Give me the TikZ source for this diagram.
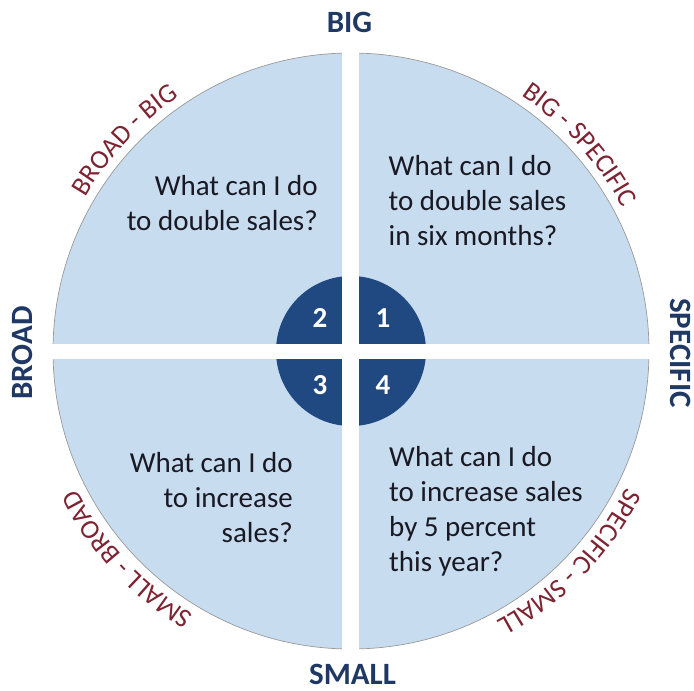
\documentclass[tikz,border=0pt]{standalone}
\usepackage{fontspec}
\setmainfont{Carlito}
\usetikzlibrary{decorations.text}
\definecolor{quadblue}{RGB}{200,220,240}
\definecolor{hubblue}{RGB}{31,73,128}
\definecolor{axisblue}{RGB}{31,56,100}
\definecolor{arcred}{RGB}{125,35,50}
\definecolor{qink}{RGB}{25,25,35}
\newcommand{\arcfont}{\fontsize{27}{32}\selectfont}

\begin{document}
\begin{tikzpicture}[x=1pt, y=1pt,
  axislabel/.style={font=\fontsize{31}{37}\selectfont\bfseries, text=axisblue, inner sep=0pt},
  question/.style={font=\fontsize{29}{35}\selectfont, text=qink, inner sep=0pt},
  quadnum/.style={font=\fontsize{29}{35}\selectfont\bfseries, text=white, inner sep=0pt},
  arclabel/.style={decorate, decoration={text along path, text align=center, text color=arcred, text={|\arcfont|#1}}}
]
  \useasboundingbox (-351,-340) rectangle (343,351);

  % disc, hub and the cross that splits them
  \filldraw[fill=quadblue, draw=gray!80, line width=0.7pt] (0,0) circle[radius=298];
  \fill[hubblue] (0,0) circle[radius=75];
  \fill[white] (-8.5,-310) rectangle (8.5,310);
  \fill[white] (-310,-7.5) rectangle (310,7.5);

  \node[quadnum] (n1) at (32,33)   {1};
  \node[quadnum] (n2) at (-31,33)  {2};
  \node[quadnum] (n3) at (-31,-34) {3};
  \node[quadnum] (n4) at (32,-34)  {4};

  \node[question, align=left, anchor=west]  (q1) at (37.5,150) {What can I do\\to double sales\\in six months?};
  \node[question, align=right, anchor=east] (q2) at (-33,148)  {What can I do\\to double sales?};
  \node[question, align=right, anchor=east] (q3) at (-58,-147) {What can I do\\to increase\\sales?};
  \node[question, align=left, anchor=west]  (q4) at (38,-160)  {What can I do\\to increase sales\\by 5 percent\\this year?};

  \node[axislabel] (big) at (-1.5,329) {BIG};
  \node[axislabel] (small) at (1.5,-323) {SMALL};
  \node[axislabel, rotate=90] (broad) at (-329,-2) {BROAD};
  \node[axislabel, rotate=-90] (specific) at (330,-2) {SPECIFIC};

  \path[arclabel={BROAD - BIG}] (177:307) arc[start angle=177, end angle=97, radius=307];
  \path[arclabel={BIG - SPECIFIC}] (82:307) arc[start angle=82, end angle=2, radius=307];
  \path[arclabel={SPECIFIC - SMALL}] (356:307) arc[start angle=356, end angle=276, radius=307];
  \path[arclabel={SMALL - BROAD}] (263:307) arc[start angle=263, end angle=183, radius=307];
\end{tikzpicture}
\end{document}
